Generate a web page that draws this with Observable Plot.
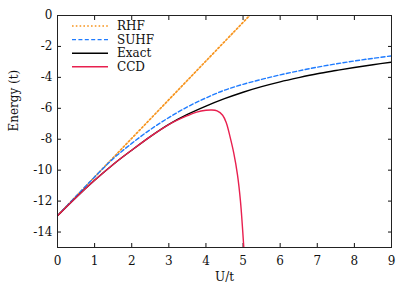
<!DOCTYPE html>
<html>
<head>
<meta charset="utf-8">
<script src="https://cdn.jsdelivr.net/npm/d3@7"></script>
<script src="https://cdn.jsdelivr.net/npm/@observablehq/plot@0.6"></script>
<style>
  html, body { margin: 0; padding: 0; background: white; }
  #wrap { position: relative; width: 415px; height: 290px; font-family: "DejaVu Serif", serif; }
  #wrap svg, #wrap svg text { font-family: "DejaVu Serif", serif !important; }
  #legend { position: absolute; left: 0; top: 0; pointer-events: none; }
</style>
</head>
<body>
<div id="wrap"></div>
<script>
// ---- data ----
const xTicks = [0, 1, 2, 3, 4, 5, 6, 7, 8, 9];
const yTicks = [0, -2, -4, -6, -8, -10, -12, -14];

const rhfU = [0, 1, 2, 3, 4, 5, 5.2];
const rhfE = [-12.944, -10.444, -7.944, -5.444, -2.944, -0.444, 0.056];

const U = [0, 0.5, 1, 1.5, 2, 2.5, 3, 3.5, 4, 4.5, 5, 5.5, 6, 6.5, 7, 7.5, 8, 8.5, 9];
const suhfE = [-12.944, -11.69, -10.44, -9.26, -8.27, -7.38, -6.60, -5.91, -5.33, -4.83, -4.45, -4.13, -3.84, -3.58, -3.34, -3.13, -2.94, -2.77, -2.61];
const exactE = [-12.944, -11.76, -10.65, -9.63, -8.71, -7.83, -7.04, -6.40, -5.86, -5.38, -4.96, -4.60, -4.29, -4.02, -3.77, -3.56, -3.36, -3.18, -3.02];

const ccdU = [0, 0.5, 1, 1.5, 2, 2.5, 3, 3.5, 3.75, 4, 4.15, 4.3, 4.45, 4.55, 4.65, 4.75, 4.85, 4.93, 5.02];
const ccdE = [-12.944, -11.76, -10.65, -9.63, -8.71, -7.83, -7.05, -6.48, -6.25, -6.13, -6.11, -6.17, -6.45, -6.95, -7.85, -8.9, -10.3, -12.0, -15.0];

const seriesNames = ["RHF", "SUHF", "Exact", "CCD"];
const seriesColors = ["#f7941d", "#1e7bff", "#000000", "#e8204f"];
const seriesDash = ["1.6,2.2", "4,2.4", null, null];

// ---- tables ----
const rhf = rhfU.map((u, i) => ({u, e: rhfE[i]}));
const suhf = U.map((u, i) => ({u, e: suhfE[i]}));
const exact = U.map((u, i) => ({u, e: exactE[i]}));
const ccd = ccdU.map((u, i) => ({u, e: ccdE[i]}));
const tables = [rhf, suhf, exact, ccd];

const fontFam = "DejaVu Serif, serif";

const chart = Plot.plot({
  width: 415,
  height: 290,
  marginLeft: 57,
  marginRight: 24,
  marginTop: 15,
  marginBottom: 43,
  style: {fontFamily: fontFam, fontSize: "12px", background: "white", color: "#111"},
  x: {domain: [0, 9]},
  y: {domain: [-15, 0]},
  marks: [
    Plot.axisX({ticks: xTicks, anchor: "bottom", tickSize: -4, tickPadding: 13, tickFormat: d => String(d), label: null, fontSize: 12}),
    Plot.axisX({ticks: xTicks, anchor: "top", tickSize: -4, tickFormat: () => "", label: null}),
    Plot.axisY({ticks: yTicks, anchor: "left", tickSize: -4, tickPadding: 9, tickFormat: d => String(d), label: null, fontSize: 12}),
    Plot.axisY({ticks: yTicks, anchor: "right", tickSize: -4, tickFormat: () => "", label: null}),
    ...tables.map((t, i) => Plot.line(t, {
      x: "u", y: "e",
      stroke: seriesColors[i],
      strokeWidth: i === 0 ? 1.7 : 1.4,
      strokeDasharray: seriesDash[i] ?? undefined,
      curve: "catmull-rom",
      clip: true
    })),
    Plot.frame({stroke: "#222", strokeWidth: 1}),
    Plot.text(["U/t"], {frameAnchor: "bottom", dy: 33, fontSize: 12}),
    Plot.text(["Energy (t)"], {frameAnchor: "left", dx: -43, rotate: -90, fontSize: 12})
  ]
});

const wrap = document.getElementById("wrap");
wrap.appendChild(chart);

// legend inside the plot area (top-left)
const ns = "http://www.w3.org/2000/svg";
const lg = document.createElementNS(ns, "svg");
lg.setAttribute("id", "legend");
lg.setAttribute("width", 415);
lg.setAttribute("height", 290);
seriesNames.forEach((name, i) => {
  const y = 26 + 13.6 * i;
  const ln = document.createElementNS(ns, "line");
  ln.setAttribute("x1", 72); ln.setAttribute("x2", 108);
  ln.setAttribute("y1", y); ln.setAttribute("y2", y);
  ln.setAttribute("stroke", seriesColors[i]);
  ln.setAttribute("stroke-width", i === 0 ? 1.7 : 1.4);
  if (seriesDash[i]) ln.setAttribute("stroke-dasharray", seriesDash[i]);
  lg.appendChild(ln);
  const tx = document.createElementNS(ns, "text");
  tx.setAttribute("x", 117);
  tx.setAttribute("y", y);
  tx.setAttribute("dy", "0.35em");
  tx.setAttribute("font-size", 12);
  tx.setAttribute("fill", "#111");
  tx.textContent = name;
  lg.appendChild(tx);
});
wrap.appendChild(lg);
</script>
</body>
</html>
